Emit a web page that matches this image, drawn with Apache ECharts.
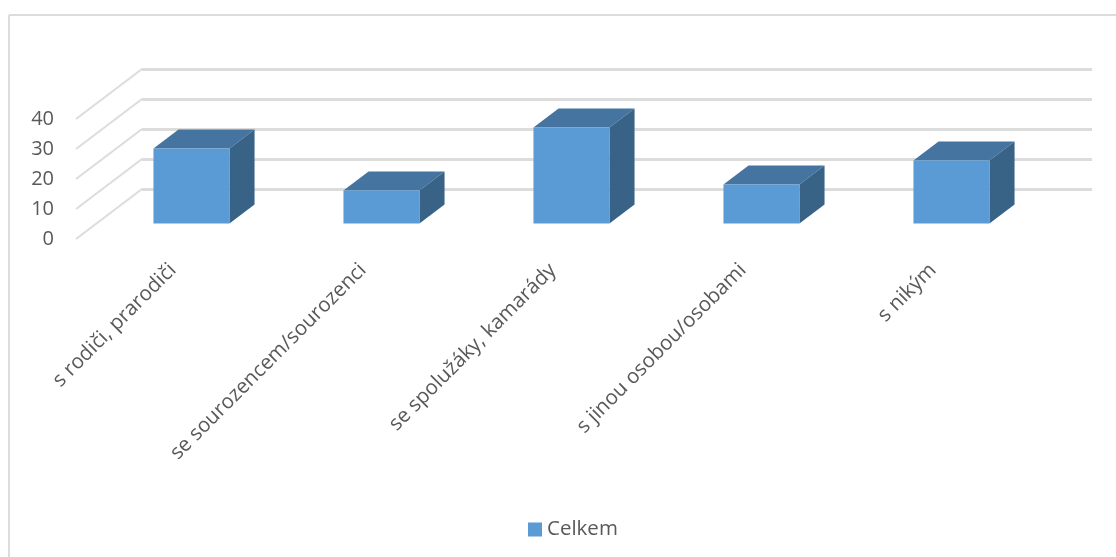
<!DOCTYPE html>
<html>
<head>
<meta charset="utf-8">
<style>html,body{margin:0;padding:0;background:#fff}#c{width:1116px;height:557px}</style>
<script src="https://cdn.jsdelivr.net/npm/echarts@6/dist/echarts.min.js"></script>
</head>
<body>
<div id="c"></div>
<script>
var categories = ['s rodiči, prarodiči', 'se sourozencem/sourozenci', 'se spolužáky, kamarády', 's jinou osobou/osobami', 's nikým'];
var values = [25, 11, 32, 13, 21];
var tickValues = [0, 10, 20, 30, 40];
var seriesName = 'Celkem';

var DX = 66, DY = 50;          // wall-to-front floor offset
var FRONT = 0.69, BACK = 0.31; // depth of bar faces, as a share of the floor depth
var FONT = '"Open Sans", sans-serif';

function renderDepthLine(params, api) {
  var p = api.coord([0, api.value(0)]);
  var x = params.coordSys.x;
  return {
    type: 'line', silent: true,
    shape: { x1: x, y1: p[1], x2: x - DX, y2: p[1] + DY },
    style: { stroke: '#dcdcdc', lineWidth: 2 }
  };
}

function renderBar(params, api) {
  var i = api.value(0);
  var top = api.coord([i, api.value(1)]);
  var base = api.coord([i, 0]);
  var w = api.size([1, 0])[0] * 0.4;
  var l = top[0] - w / 2, r = top[0] + w / 2;
  function pt(x, y, d) { return [x - DX * d, y + DY * d]; }
  var a = pt(l, top[1], FRONT), b = pt(r, top[1], FRONT),
      c = pt(r, base[1], FRONT), d = pt(l, base[1], FRONT),
      e = pt(l, top[1], BACK), f = pt(r, top[1], BACK),
      g = pt(r, base[1], BACK);
  return {
    type: 'group',
    children: [
      { type: 'polygon', shape: { points: [a, b, f, e] }, style: { fill: '#44749f' } },
      { type: 'polygon', shape: { points: [b, f, g, c] }, style: { fill: '#386387' } },
      { type: 'polygon', shape: { points: [a, b, c, d] }, style: { fill: '#5b9bd5' } }
    ]
  };
}

var chart = echarts.init(document.getElementById('c'), null, { renderer: 'canvas' });
chart.setOption({
  animation: false,
  backgroundColor: '#ffffff',
  graphic: [
    { type: 'line', silent: true, z: -10, shape: { x1: 9, y1: 15, x2: 1116, y2: 15 },
      style: { stroke: '#dcdcdc', lineWidth: 2 } },
    { type: 'line', silent: true, z: -10, shape: { x1: 9, y1: 15, x2: 9, y2: 557 },
      style: { stroke: '#dcdcdc', lineWidth: 2 } }
  ],
  legend: {
    data: [{ name: seriesName, icon: 'rect' }],
    left: 523, top: 514, itemWidth: 14, itemHeight: 14, itemGap: 6,
    textStyle: { color: '#595959', fontFamily: FONT, fontSize: 20.5 }
  },
  grid: [
    { left: 142, top: 69, width: 950, height: 120 },
    { left: 78, top: 119, width: 950, height: 120 }
  ],
  xAxis: [
    { type: 'category', gridIndex: 0, data: categories,
      axisLine: { show: false }, axisTick: { show: false }, axisLabel: { show: false }, splitLine: { show: false } },
    { type: 'category', gridIndex: 1, data: categories,
      axisLine: { show: false }, axisTick: { show: false }, splitLine: { show: false },
      axisLabel: { rotate: 45, interval: 0, margin: 28, color: '#595959', fontFamily: FONT, fontSize: 20.5 } }
  ],
  yAxis: [
    { type: 'value', gridIndex: 0, min: 0, max: 40, interval: 10,
      axisLine: { show: false }, axisTick: { show: false }, axisLabel: { show: false },
      splitLine: { show: true, lineStyle: { color: '#dcdcdc', width: 3 } } },
    { type: 'value', gridIndex: 1, min: 0, max: 40, interval: 10,
      axisLine: { show: false }, axisTick: { show: false }, splitLine: { show: false },
      axisLabel: { margin: 24, color: '#595959', fontFamily: FONT, fontSize: 20 } }
  ],
  series: [
    { type: 'custom', xAxisIndex: 0, yAxisIndex: 0, silent: true, z: 1,
      data: tickValues.map(function (v) { return [v]; }), encode: { y: 0 },
      renderItem: renderDepthLine },
    { type: 'custom', name: seriesName, xAxisIndex: 0, yAxisIndex: 0, z: 2,
      itemStyle: { color: '#5b9bd5' },
      data: values.map(function (v, i) { return [i, v]; }), encode: { x: 0, y: 1 },
      renderItem: renderBar }
  ]
});
</script>
</body>
</html>
